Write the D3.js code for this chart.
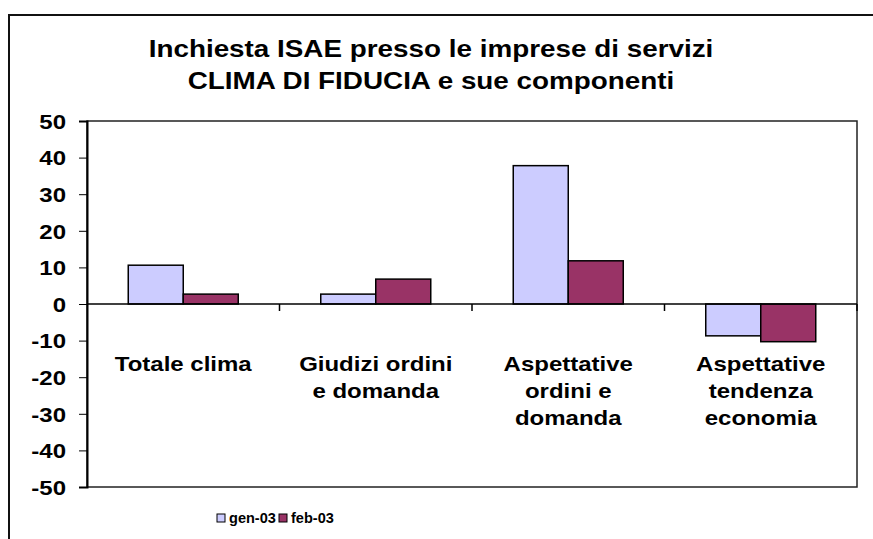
<!DOCTYPE html>
<html><head><meta charset="utf-8">
<script src="https://cdn.jsdelivr.net/npm/d3@7"></script>
<style>body{margin:0;background:#fff}svg{display:block}text{font-family:Arial,"Liberation Sans",sans-serif;font-weight:bold;fill:#000}</style>
</head><body>
<script>
const categories = [["Totale clima"],["Giudizi ordini","e domanda"],["Aspettative","ordini e","domanda"],["Aspettative","tendenza","economia"]];
const seriesNames = ["gen-03","feb-03"];
const gen03 = [10.6, 2.7, 37.8, -8.7];
const feb03 = [2.7, 6.8, 11.8, -10.3];
const yTicks = [50,40,30,20,10,0,-10,-20,-30,-40,-50];
const colors = ["#CCCCFF","#993366"];
const titleLines = ["Inchiesta ISAE presso le imprese di servizi","CLIMA DI FIDUCIA e sue componenti"];

const W=873,H=539;
const svg=d3.select("body").append("svg").attr("width",W).attr("height",H);
svg.append("rect").attr("width",W).attr("height",H).attr("fill","#fff");
// outer frame (extends beyond view)
svg.append("rect").attr("x",9).attr("y",15).attr("width",900).attr("height",600)
  .attr("fill","none").attr("stroke","#111").attr("stroke-width",2);

const L=87,R=857,T=121,B=487;
const x0=d3.scaleBand().domain(d3.range(categories.length)).range([L,R]).padding(0);
const x1=d3.scaleBand().domain(seriesNames).range([0,x0.bandwidth()]).paddingInner(0).paddingOuter(0.75);
const y=d3.scaleLinear().domain([-50,50]).range([B,T]);

// plot frame
svg.append("rect").attr("x",L).attr("y",T).attr("width",R-L).attr("height",B-T)
  .attr("fill","none").attr("stroke","#222").attr("stroke-width",1.5);

// y axis
const yAxis=d3.axisLeft(y).tickValues(yTicks).tickSize(8).tickPadding(13).tickFormat(d=>String(d));
const ga=svg.append("g").attr("transform",`translate(${L},0)`).call(yAxis);
ga.select(".domain").attr("stroke","#000").attr("stroke-width",2);
ga.selectAll(".tick line").attr("stroke","#000").attr("stroke-width",1);
ga.selectAll(".tick text").attr("font-size",20).attr("fill","#000").attr("dy","0.36em")
  .attr("x",0).attr("transform",`translate(-21,0) scale(1.2,1)`);

// bars
const data=seriesNames.map((s,i)=>({s,vals:i===0?gen03:feb03}));
data.forEach((ser,si)=>{
  svg.append("g").selectAll("rect").data(ser.vals).join("rect")
    .attr("x",(d,i)=>x0(i)+x1(ser.s))
    .attr("width",x1.bandwidth())
    .attr("y",d=>y(Math.max(0,d)))
    .attr("height",d=>Math.abs(y(d)-y(0)))
    .attr("fill",colors[si]).attr("stroke","#000").attr("stroke-width",1.5);
});

// zero axis with category ticks
svg.append("line").attr("x1",L).attr("x2",R).attr("y1",y(0)).attr("y2",y(0)).attr("stroke","#000").attr("stroke-width",1.5);
const catTicks=d3.range(1,categories.length+1).map(i=>L+i*x0.step());
svg.append("g").selectAll("line").data(catTicks).join("line")
  .attr("x1",d=>d).attr("x2",d=>d).attr("y1",y(0)).attr("y2",y(0)+7).attr("stroke","#000").attr("stroke-width",1.5);

// category labels
categories.forEach((lines,i)=>{
  const cx=x0(i)+x0.bandwidth()/2;
  lines.forEach((ln,j)=>{
    svg.append("text").attr("text-anchor","middle").attr("font-size",20)
      .attr("transform",`translate(${cx},${371+j*27}) scale(1.2,1)`).text(ln);
  });
});

// title
titleLines.forEach((ln,j)=>{
  svg.append("text").attr("text-anchor","middle").attr("font-size",24)
    .attr("transform",`translate(431,${57+j*32}) scale(1.16,1)`).text(ln);
});

// legend
const lg=svg.append("g");
const legX=[217,279];
seriesNames.forEach((s,i)=>{
  lg.append("rect").attr("x",legX[i]).attr("y",514).attr("width",8).attr("height",8)
    .attr("fill",colors[i]).attr("stroke","#000").attr("stroke-width",1);
  lg.append("text").attr("font-size",15).attr("transform",`translate(${legX[i]+12},523) scale(0.97,1)`).text(s);
});
</script>
</body></html>
